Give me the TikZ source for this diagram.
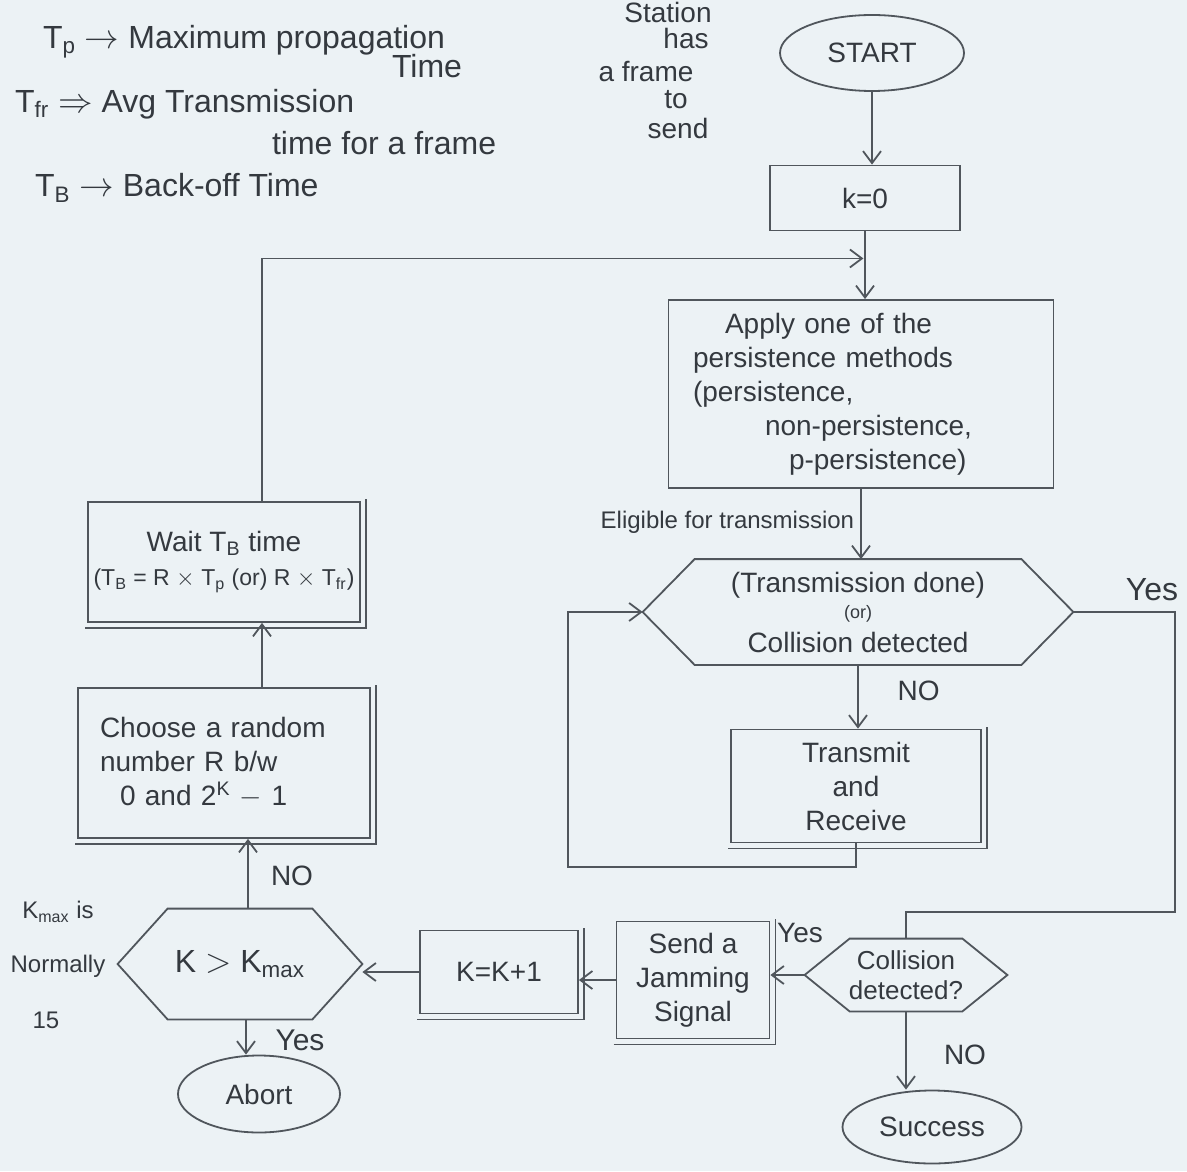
\documentclass[tikz,border=0pt]{standalone}
\usepackage{fontspec}
\setmainfont{Liberation Sans}
\usetikzlibrary{arrows.meta,shapes.geometric,calc}

\definecolor{paper}{RGB}{236,242,245}
\definecolor{pencil}{RGB}{80,86,92}
\definecolor{ink}{RGB}{52,57,63}

% hexagonal decision outline around a plain rectangular node (#2 = point depth)
\newcommand\hexoutline[2]{%
  \draw[link] ($(#1.north west)+(#2,0)$) -- ($(#1.north east)+(-#2,0)$) -- (#1.east)
    -- ($(#1.south east)+(-#2,0)$) -- ($(#1.south west)+(#2,0)$) -- (#1.west) -- cycle;}
% second pencil stroke along the bottom and right edges of a box
\newcommand\retrace[1]{%
  \draw[retraced] ([shift={(-2,5)}]#1.south west) -- ([shift={(5,5)}]#1.south east)
    -- ([shift={(5,-2)}]#1.north east);}

\begin{document}
\begin{tikzpicture}[x=0.5pt,y=-0.5pt,
  every node/.style={text=ink,font=\fontsize{14}{17}\selectfont},
  box/.style={draw=pencil,line width=0.9pt,rectangle,align=center,inner sep=2pt},
  term/.style={draw=pencil,line width=0.9pt,ellipse,inner sep=1pt},
  hexa/.style={rectangle,align=center,inner sep=0pt},
  flow/.style={draw=pencil,line width=0.9pt,-{Straight Barb[length=6pt,width=9pt]}},
  link/.style={draw=pencil,line width=0.9pt},
  retraced/.style={draw=pencil,line width=0.6pt},
  tag/.style={font=\fontsize{14}{16}\selectfont},
  note/.style={font=\fontsize{16}{19}\selectfont,anchor=west},
  side/.style={font=\fontsize{14}{15}\selectfont,inner sep=0pt}
]
\useasboundingbox (0,0) rectangle (1187,1171);
\fill[paper] (0,0) rectangle (1187,1171);
\clip (0,0) rectangle (1187,1171);

% legend
\node[note] (lg1) at (36,42) {T\textsubscript{p} $\rightarrow$ Maximum propagation};
\node[note] (lg1b) at (385,66) {Time};
\node[note] (lg2) at (8,104) {T\textsubscript{fr} $\Rightarrow$ Avg Transmission};
\node[note] (lg2b) at (265,143) {time for a frame};
\node[note] (lg3) at (28,188) {T\textsubscript{B} $\rightarrow$ Back-off Time};

% trigger note
\node[side] (st0) at (668,12) {Station};
\node[side] (st1) at (686,38) {has};
\node[side] (st2) at (646,72) {a frame};
\node[side] (st3) at (676,100) {to};
\node[side] (st4) at (678,128) {send};

% main column
\node[term,minimum width=92pt,minimum height=38pt] (start) at (872,53) {START};
\node[box,minimum width=95pt,minimum height=32.5pt] (k0) at (865,198) {k=0};
\node[box,minimum width=192.5pt,minimum height=94pt,align=left,text width=168pt] (apply) at (861,394)
  {\hspace*{16pt}Apply one of the\\
   persistence methods\\
   (persistence,\\
   \hspace*{36pt}non-persistence,\\
   \hspace*{48pt}p-persistence)};
\node[hexa,minimum width=215pt,minimum height=52.5pt] (hex1) at (858,612)
  {(Transmission done)\\[-4pt]{\fontsize{9}{9}\selectfont (or)}\\Collision detected};
\hexoutline{hex1}{52}
\node[box,minimum width=125pt,minimum height=56.5pt] (tx) at (856,786) {Transmit\\and\\Receive};
\retrace{tx}

% collision check and back-off
\node[hexa,minimum width=101pt,minimum height=36pt,font=\fontsize{13}{15}\selectfont] (hex2) at (906,975)
  {Collision\\detected?};
\hexoutline{hex2}{45}
\node[box,minimum width=76.5pt,minimum height=58.5pt] (jam) at (693,980) {Send a\\Jamming\\Signal};
\retrace{jam}
\node[box,minimum width=79pt,minimum height=41.5pt] (kk) at (499,972) {K=K+1};
\retrace{kk}
\node[hexa,minimum width=122pt,minimum height=55pt,font=\fontsize{16}{18}\selectfont] (hex3) at (240,964)
  {K $>$ K\textsubscript{max}};
\hexoutline{hex3}{50}
\node[box,minimum width=146pt,minimum height=75pt,align=left,text width=124pt] (choose) at (224,763)
  {Choose a random\\number R b/w\\\hspace*{10pt}0 and 2\textsuperscript{K} $-$ 1};
\retrace{choose}
\node[box,minimum width=136pt,minimum height=60pt] (wait) at (224,562)
  {Wait T\textsubscript{B} time\\{\fontsize{11.5}{14}\selectfont(T\textsubscript{B} = R $\times$ T\textsubscript{p} (or) R $\times$ T\textsubscript{fr})}};
\retrace{wait}
\node[term,minimum width=81pt,minimum height=38.5pt] (abort) at (259,1094) {Abort};
\node[term,minimum width=89.5pt,minimum height=36.5pt] (success) at (932,1127) {Success};

% side notes
\node[tag,font=\fontsize{12}{14}\selectfont] (kmax1) at (58,912) {K\textsubscript{max} is};
\node[tag,font=\fontsize{12}{14}\selectfont] (kmax2) at (58,966) {Normally};
\node[tag,font=\fontsize{12}{14}\selectfont] (kmax3) at (46,1020) {15};

% connectors
\coordinate (join) at ($(k0.south)!0.4!(apply.north)$);
\coordinate (leftloop) at (568,867);
\coordinate (rightloop) at (1175,912);

\draw[flow] (start.south) -- (start.south |- k0.north);
\draw[flow] (k0.south) -- (k0.south |- apply.north);
\draw[flow] ([xshift=19pt]wait.north) |- (join);
\draw[flow] (apply.south) -- node[pos=0.48,left,font=\fontsize{12}{14}\selectfont,inner sep=3pt] (elig) {Eligible for transmission} (apply.south |- hex1.north);
\draw[flow] (hex1.south) -- node[pos=0.4,right,xshift=16pt,tag] (no1) {NO} (hex1.south |- tx.north);
\draw[flow] (tx.south) |- (leftloop) |- (hex1.west);
\draw[link] (hex1.east) -| (rightloop) -| (hex2.north);
\node[tag,font=\fontsize{16}{18}\selectfont] (yes1) at (1152,590) {Yes};
\draw[flow] (hex2.west) -- (hex2.west -| jam.east);
\node[tag] (yes2) at (800,933) {Yes};
\draw[flow] (jam.west) -- (jam.west -| kk.east);
\draw[flow] (kk.west) -- (kk.west -| hex3.east);
\draw[flow] ([xshift=4pt]hex3.north) -- ([xshift=4pt]hex3.north |- choose.south);
\node[tag] (no2) at (292,876) {NO};
\draw[flow] ([xshift=19pt]choose.north) -- ([xshift=19pt]choose.north |- wait.south);
\draw[flow] ([xshift=3pt]hex3.south) -- ([xshift=3pt]hex3.south |- abort.north);
\node[tag,font=\fontsize{15}{17}\selectfont] (yes3) at (300,1040) {Yes};
\draw[flow] (hex2.south) -- (hex2.south |- success.north);
\node[tag] (no3) at (965,1055) {NO};
\end{tikzpicture}
\end{document}
